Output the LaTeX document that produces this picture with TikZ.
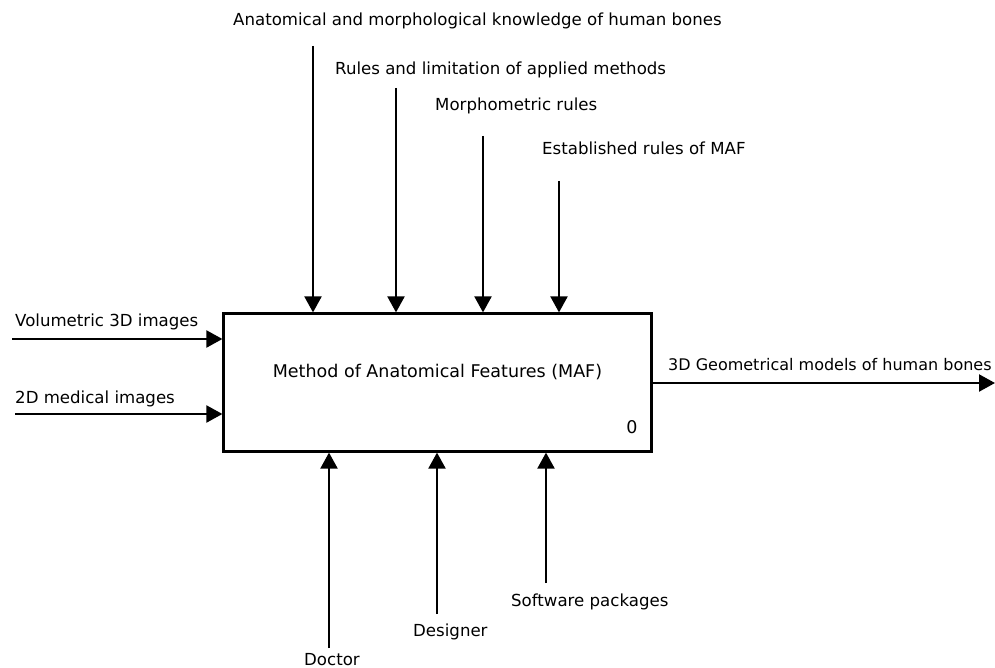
\documentclass[tikz,border=0pt]{standalone}
\usepackage{fontspec}
\setmainfont{DejaVu Sans}
\usetikzlibrary{arrows.meta}
\begin{document}
\begin{tikzpicture}[x=1pt,y=-1pt,
  lbl/.style={font=\fontsize{16.6}{19}\selectfont, inner sep=0pt, anchor=west},
  big/.style={font=\fontsize{17.5}{21}\selectfont, inner sep=0pt, anchor=center},
  arr/.style={line width=2.2pt, -{Triangle[length=16pt,width=17pt]}},
  proc/.style={draw, line width=2.2pt, minimum width=428pt, minimum height=138pt, inner sep=0pt}]
\useasboundingbox (0,0) rectangle (995,668);
% process box
\node[proc] (maf) at (437.5,382.5) {};
\node[big] (title) at (437.5,372) {Method of Anatomical Features (MAF)};
\node[big] (num) at (632,427) {0};
% controls (top)
\node[lbl] (c1) at (233,21) {Anatomical and morphological knowledge of human bones};
\node[lbl] (c2) at (335,70) {Rules and limitation of applied methods};
\node[lbl] (c3) at (435,106) {Morphometric rules};
\node[lbl] (c4) at (542,148) {Established rules of MAF};
\coordinate (t1) at (313,46);
\coordinate (t2) at (396,88);
\coordinate (t3) at (483,136);
\coordinate (t4) at (559,181);
\draw[arr] (t1) -- (t1 |- maf.north);
\draw[arr] (t2) -- (t2 |- maf.north);
\draw[arr] (t3) -- (t3 |- maf.north);
\draw[arr] (t4) -- (t4 |- maf.north);
% inputs (left)
\node[lbl] (i1) at (15,322) {Volumetric 3D images};
\node[lbl] (i2) at (15,399) {2D medical images};
\coordinate (l1) at (12,339);
\coordinate (l2) at (15,414);
\draw[arr] (l1) -- (l1 -| maf.west);
\draw[arr] (l2) -- (l2 -| maf.west);
% output (right)
\node[lbl, font=\fontsize{16}{19}\selectfont] (o1) at (668,365) {3D Geometrical models of human bones};
\coordinate (r1) at (995,383);
\draw[arr] (r1 -| maf.east) -- (r1);
% mechanisms (bottom)
\node[lbl] (m1) at (304,660) {Doctor};
\node[lbl] (m2) at (413,632) {Designer};
\node[lbl] (m3) at (511,602) {Software packages};
\coordinate (b1) at (329,648);
\coordinate (b2) at (437,614);
\coordinate (b3) at (546,583);
\draw[arr] (b1) -- (b1 |- maf.south);
\draw[arr] (b2) -- (b2 |- maf.south);
\draw[arr] (b3) -- (b3 |- maf.south);
\end{tikzpicture}
\end{document}
